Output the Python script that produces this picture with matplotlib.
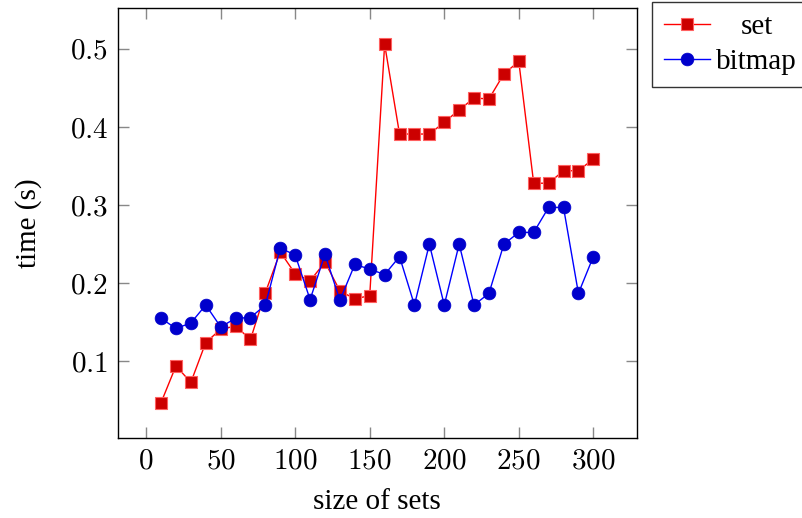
import numpy as np
import matplotlib.pyplot as plt
from matplotlib.ticker import FuncFormatter
from matplotlib.transforms import Affine2D

plt.rcParams['font.family'] = ['Liberation Serif', 'DejaVu Serif']
plt.rcParams['mathtext.fontset'] = 'cm'

# tailles des ensembles
sizes = np.arange(10, 301, 10)

# temps mesures (s)
t_set = np.array([0.047, 0.094, 0.073, 0.124, 0.141, 0.145, 0.128, 0.188, 0.240, 0.212,
                  0.203, 0.227, 0.190, 0.180, 0.184, 0.506, 0.391, 0.391, 0.391, 0.406,
                  0.422, 0.437, 0.436, 0.468, 0.484, 0.328, 0.328, 0.344, 0.344, 0.359])
t_bitmap = np.array([0.155, 0.142, 0.149, 0.172, 0.144, 0.155, 0.156, 0.172, 0.245, 0.236,
                     0.179, 0.237, 0.178, 0.224, 0.218, 0.211, 0.234, 0.172, 0.250, 0.172,
                     0.250, 0.172, 0.187, 0.250, 0.265, 0.265, 0.297, 0.297, 0.187, 0.234])

xticks = [0, 50, 100, 150, 200, 250, 300]
yticks = [0.1, 0.2, 0.3, 0.4, 0.5]

fig = plt.figure(figsize=(8.02, 5.18), dpi=100)
ax = fig.add_axes([0.1469, 0.1535, 0.6468, 0.8303])

ax.plot(sizes, t_set, color='#ff0000', lw=1, marker='s', ms=8.6,
        mfc='#cc0000', mec='#ff6060', mew=0.8, label='set')
ax.plot(sizes, t_bitmap, color='#0000ff', lw=1, marker='o', ms=9.2,
        mfc='#0000cc', mec='#0000cc', mew=0.5, label='bitmap')

# marge de 10% comme pgfplots
def marge(lo, hi):
    d = hi - lo
    return lo - 0.1 * d, hi + 0.1 * d

ax.set_xlim(*marge(sizes.min(), sizes.max()))
ax.set_ylim(*marge(min(t_set.min(), t_bitmap.min()), max(t_set.max(), t_bitmap.max())))

ax.set_xticks(xticks)
ax.set_yticks(yticks)
ax.xaxis.set_major_formatter(FuncFormatter(lambda v, p: r'$%d$' % v))
ax.yaxis.set_major_formatter(FuncFormatter(lambda v, p: r'$%.1f$' % v))
ax.tick_params(direction='in', length=8, width=1, color='#888888',
               top=True, right=True, labelsize=21, pad=7)

for s in ax.spines.values():
    s.set_linewidth(1)

ax.set_xlabel('size of sets', fontsize=21, labelpad=11)
ax.set_ylabel('time (s)', fontsize=21, labelpad=20)

leg = ax.legend(loc='upper left', bbox_to_anchor=(652 / 802, 1 - 2 / 518),
                bbox_transform=fig.transFigure, fontsize=21,
                frameon=True, fancybox=False, edgecolor='black',
                handlelength=1.6, borderpad=0.4, labelspacing=0.3, handletextpad=0.2,
                borderaxespad=0)
leg.get_frame().set_linewidth(1)

# textes de la legende centres dans leur colonne
fig.canvas.draw()
rend = fig.canvas.get_renderer()
textes = leg.get_texts()
larg = [t.get_window_extent(rend).width for t in textes]
for t, w in zip(textes, larg):
    dx = (max(larg) - w) / 2
    t.set_transform(t.get_transform() + Affine2D().translate(dx, 0))

fig.savefig('out.png', dpi=100)
